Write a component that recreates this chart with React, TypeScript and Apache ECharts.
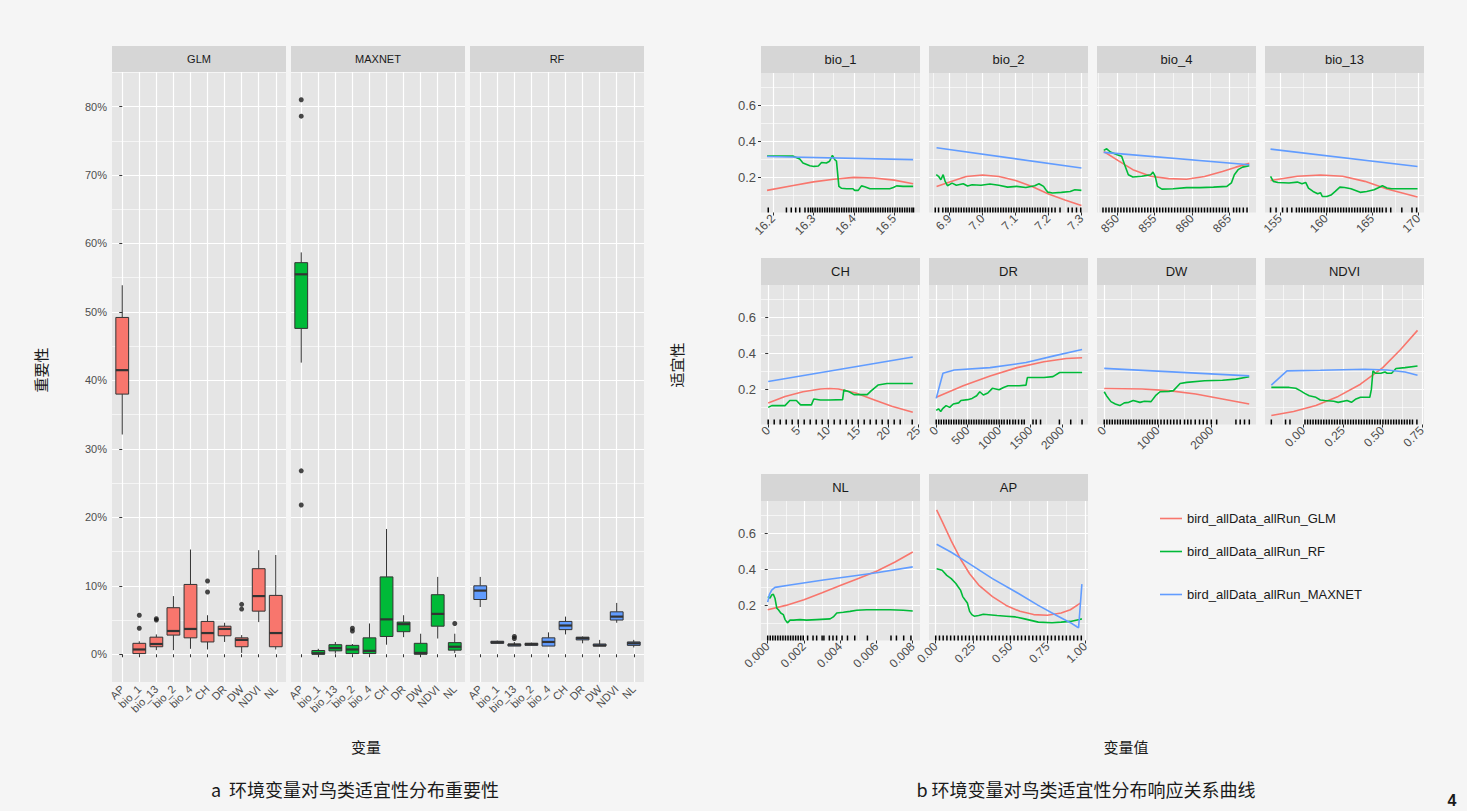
import React, { useEffect, useRef } from "react";
import * as echarts from "echarts";

// ---------------- Left figure: variable importance (%) ----------------
const VARS = ["AP", "bio_1", "bio_13", "bio_2", "bio_4", "CH", "DR", "DW", "NDVI", "NL"];
const MODELS = ["GLM", "MAXNET", "RF"];
const MODEL_COLORS = ["#F8766D", "#00BA38", "#619CFF"];
const IMP_TICKS = [0, 10, 20, 30, 40, 50, 60, 70, 80];
const IMP_MINOR = [5, 15, 25, 35, 45, 55, 65, 75, 85];

// [lower whisker, Q1, median, Q3, upper whisker] in the order of VARS
const glmStats = [
  [32.1, 38.0, 41.5, 49.2, 53.9],
  [0.0, 0.1, 0.7, 1.6, 1.9],
  [0.6, 1.1, 1.5, 2.5, 2.9],
  [0.6, 2.8, 3.4, 6.8, 8.5],
  [0.8, 2.4, 3.7, 10.2, 15.3],
  [0.7, 1.8, 3.1, 4.8, 5.7],
  [1.8, 2.7, 3.7, 4.1, 4.6],
  [0.2, 1.1, 2.1, 2.4, 2.8],
  [4.7, 6.3, 8.5, 12.5, 15.2],
  [0.7, 1.1, 3.1, 8.6, 14.5],
];
const maxnetStats = [
  [42.6, 47.6, 55.5, 57.2, 58.7],
  [0.0, 0.0, 0.15, 0.55, 0.8],
  [0.1, 0.5, 0.9, 1.4, 1.8],
  [0.1, 0.1, 0.7, 1.3, 1.5],
  [0.1, 0.1, 0.5, 2.4, 4.5],
  [1.4, 2.6, 5.1, 11.3, 18.3],
  [2.5, 3.3, 4.4, 4.7, 5.7],
  [0.0, 0.0, 0.2, 1.6, 3.0],
  [2.3, 4.1, 5.9, 8.7, 11.3],
  [0.2, 0.6, 1.1, 1.7, 3.0],
];
const rfStats = [
  [6.9, 8.0, 9.3, 10.0, 11.3],
  [1.6, 1.6, 1.75, 1.9, 2.0],
  [1.2, 1.2, 1.4, 1.5, 1.8],
  [1.3, 1.3, 1.5, 1.6, 1.7],
  [1.2, 1.2, 1.8, 2.4, 3.2],
  [2.9, 3.6, 4.2, 4.8, 5.5],
  [1.6, 2.1, 2.35, 2.5, 2.6],
  [1.2, 1.2, 1.3, 1.5, 2.1],
  [4.6, 5.0, 5.5, 6.2, 7.5],
  [1.0, 1.3, 1.6, 1.8, 2.1],
];
// [variable index, value]
const glmOutliers = [[1, 5.7], [1, 3.8], [2, 5.2], [2, 5.0], [5, 10.7], [5, 9.1], [7, 7.3], [7, 6.6]];
const maxnetOutliers = [[0, 81.0], [0, 78.6], [0, 26.8], [0, 21.8], [3, 3.8], [3, 3.4], [9, 4.5]];
const rfOutliers = [[2, 2.6], [2, 2.3]];

// ---------------- Right figure: response curves ----------------
const LEGEND_NAMES = ["bird_allData_allRun_GLM", "bird_allData_allRun_RF", "bird_allData_allRun_MAXNET"];
const LINE_COLORS = ["#F8766D", "#00BA38", "#619CFF"];
const RESP_TICKS = [0.2, 0.4, 0.6];
const RESP_MINOR = [0.1, 0.3, 0.5, 0.7];

const bio1Glm = [[16.185, 0.128], [16.25, 0.155], [16.3, 0.175], [16.35, 0.19], [16.4, 0.2], [16.45, 0.197], [16.5, 0.185], [16.547, 0.165]];
const bio1Rf = [[16.185, 0.318], [16.25, 0.318], [16.266, 0.302], [16.274, 0.28], [16.291, 0.265], [16.301, 0.261], [16.312, 0.263], [16.32, 0.283], [16.332, 0.28], [16.34, 0.29], [16.347, 0.322], [16.353, 0.298], [16.357, 0.29], [16.363, 0.15], [16.369, 0.14], [16.382, 0.137], [16.398, 0.137], [16.402, 0.128], [16.411, 0.128], [16.419, 0.153], [16.427, 0.148], [16.44, 0.137], [16.456, 0.137], [16.489, 0.137], [16.498, 0.144], [16.506, 0.153], [16.522, 0.15], [16.547, 0.15]];
const bio1Maxnet = [[16.185, 0.316], [16.547, 0.299]];
const bio1Rug = [16.188, 16.233, 16.245, 16.256, 16.266, 16.279, 16.287, 16.293, 16.298, 16.304, 16.31, 16.316, 16.322, 16.328, 16.334, 16.34, 16.346, 16.352, 16.358, 16.364, 16.37, 16.376, 16.382, 16.388, 16.394, 16.4, 16.406, 16.412, 16.418, 16.424, 16.43, 16.436, 16.442, 16.448, 16.454, 16.46, 16.466, 16.472, 16.478, 16.484, 16.49, 16.496, 16.502, 16.508, 16.514, 16.52, 16.526, 16.532, 16.538, 16.544, 16.548];

const bio2Glm = [[6.86, 0.15], [6.9, 0.175], [6.95, 0.205], [7.0, 0.213], [7.05, 0.205], [7.1, 0.183], [7.15, 0.15], [7.2, 0.108], [7.25, 0.075], [7.3, 0.044]];
const bio2Rf = [[6.859, 0.215], [6.866, 0.206], [6.873, 0.187], [6.88, 0.215], [6.886, 0.178], [6.893, 0.154], [6.907, 0.168], [6.92, 0.156], [6.941, 0.165], [6.954, 0.152], [6.968, 0.159], [6.995, 0.156], [7.022, 0.163], [7.049, 0.156], [7.076, 0.146], [7.103, 0.15], [7.131, 0.144], [7.158, 0.154], [7.171, 0.165], [7.185, 0.15], [7.192, 0.131], [7.198, 0.118], [7.212, 0.113], [7.239, 0.117], [7.266, 0.122], [7.28, 0.131], [7.3, 0.128]];
const bio2Maxnet = [[6.86, 0.365], [7.3, 0.252]];
const bio2Rug = [6.856, 6.866, 6.879, 6.888, 6.895, 6.903, 6.911, 6.919, 6.927, 6.935, 6.943, 6.951, 6.959, 6.967, 6.975, 6.983, 6.991, 6.999, 7.007, 7.015, 7.023, 7.031, 7.039, 7.047, 7.055, 7.063, 7.071, 7.079, 7.087, 7.095, 7.103, 7.111, 7.119, 7.127, 7.135, 7.143, 7.151, 7.159, 7.167, 7.175, 7.183, 7.191, 7.2, 7.21, 7.22, 7.235, 7.26, 7.272, 7.285, 7.298];

const bio4Glm = [[848.2, 0.344], [850.3, 0.289], [852.1, 0.243], [854.5, 0.206], [856.9, 0.193], [859.3, 0.19], [861.7, 0.205], [864.1, 0.233], [865.9, 0.257], [867.7, 0.278]];
const bio4Rf = [[848.2, 0.35], [848.6, 0.359], [849.1, 0.341], [850, 0.326], [850.6, 0.317], [851, 0.27], [851.5, 0.215], [852.1, 0.202], [853.3, 0.206], [854.5, 0.215], [854.8, 0.23], [855.1, 0.206], [855.4, 0.15], [856, 0.135], [857.5, 0.137], [859.3, 0.143], [861.1, 0.143], [862.9, 0.146], [864.7, 0.15], [865.3, 0.169], [865.7, 0.215], [866.2, 0.243], [866.8, 0.257], [867.7, 0.265]];
const bio4Maxnet = [[848.2, 0.339], [867.7, 0.27]];
const bio4Rug = [848.1, 848.5, 848.9, 849.3, 849.7, 850.1, 850.5, 850.9, 851.3, 851.7, 852.1, 852.5, 852.9, 853.3, 853.7, 854.1, 854.5, 854.9, 855.3, 855.7, 856.1, 856.5, 856.9, 857.3, 857.7, 858.1, 858.5, 858.9, 859.3, 859.7, 860.1, 860.5, 860.9, 861.3, 861.7, 862.1, 862.5, 862.9, 863.3, 863.7, 864.1, 864.5, 864.9, 865.6, 866.0, 866.4, 866.9, 867.4];

const bio13Glm = [[154.0, 0.183], [156.9, 0.206], [159.4, 0.213], [161.8, 0.206], [164.2, 0.178], [166.6, 0.135], [169.9, 0.091]];
const bio13Rf = [[154.0, 0.206], [154.3, 0.178], [154.8, 0.172], [156.0, 0.169], [156.9, 0.174], [157.4, 0.165], [157.8, 0.172], [158.1, 0.141], [158.6, 0.122], [159.1, 0.109], [159.4, 0.115], [159.6, 0.094], [160.1, 0.094], [160.6, 0.104], [161.0, 0.122], [161.5, 0.146], [162.0, 0.144], [162.7, 0.137], [163.7, 0.117], [164.4, 0.122], [165.2, 0.131], [165.6, 0.141], [166.1, 0.154], [166.6, 0.141], [167.1, 0.137], [169.9, 0.137]];
const bio13Maxnet = [[154.0, 0.357], [169.9, 0.261]];
const bio13Rug = [154.0, 154.6, 155.3, 155.8, 156.3, 156.8, 157.1, 157.4, 157.7, 158.0, 158.3, 158.6, 158.9, 159.2, 159.5, 159.8, 160.1, 160.4, 160.7, 161.0, 161.3, 161.6, 161.9, 162.2, 162.5, 162.8, 163.1, 163.4, 163.7, 164.0, 164.3, 164.6, 164.9, 165.2, 165.5, 165.8, 166.1, 166.5, 167.0, 168.2, 169.3, 169.8];

const chGlm = [[0, 0.125], [2.8, 0.161], [5.8, 0.187], [8.7, 0.202], [10.2, 0.205], [11.7, 0.202], [14.6, 0.18], [17.6, 0.143], [20.6, 0.106], [24.1, 0.073]];
const chRf = [[0, 0.1], [0.6, 0.11], [1.3, 0.11], [2.8, 0.11], [3.6, 0.138], [4.7, 0.138], [5.4, 0.114], [7.2, 0.114], [7.6, 0.147], [8.7, 0.141], [10.2, 0.141], [12.4, 0.143], [12.6, 0.196], [13.5, 0.187], [14.3, 0.171], [16.5, 0.171], [17.2, 0.193], [18.3, 0.224], [19.8, 0.233], [24.1, 0.233]];
const chMaxnet = [[0, 0.244], [24.1, 0.38]];
const chRug = [0, 1, 2, 3, 4, 5, 6, 7, 8, 9, 10, 11, 12, 13, 14, 15, 16, 17, 18, 19, 20, 21, 22, 24];

const drGlm = [[0, 0.156], [429, 0.22], [857, 0.275], [1286, 0.321], [1714, 0.354], [2071, 0.372], [2321, 0.376]];
const drRf = [[0, 0.083], [36, 0.092], [71, 0.077], [107, 0.095], [157, 0.11], [214, 0.1], [271, 0.119], [357, 0.125], [393, 0.138], [500, 0.143], [571, 0.15], [643, 0.165], [693, 0.187], [750, 0.169], [821, 0.18], [893, 0.206], [1000, 0.198], [1071, 0.211], [1143, 0.22], [1321, 0.22], [1429, 0.224], [1450, 0.266], [1714, 0.266], [1857, 0.271], [1964, 0.294], [2321, 0.294]];
const drMaxnet = [[0, 0.15], [107, 0.29], [286, 0.308], [857, 0.321], [1429, 0.349], [1857, 0.385], [2321, 0.422]];
const drRug = [0, 40, 80, 120, 160, 200, 240, 280, 320, 360, 400, 440, 480, 520, 560, 600, 640, 680, 720, 760, 800, 840, 880, 920, 960, 1000, 1040, 1080, 1130, 1170, 1220, 1260, 1310, 1360, 1400, 1540, 1590, 1660, 1960, 2140, 2320];

const dwGlm = [[0, 0.205], [708, 0.202], [1208, 0.193], [1708, 0.174], [2208, 0.147], [2708, 0.119]];
const dwRf = [[0, 0.187], [42, 0.165], [125, 0.132], [208, 0.119], [292, 0.11], [375, 0.125], [458, 0.128], [542, 0.138], [667, 0.128], [750, 0.134], [875, 0.132], [958, 0.165], [1042, 0.187], [1208, 0.189], [1292, 0.193], [1417, 0.233], [1542, 0.239], [1875, 0.248], [2208, 0.251], [2458, 0.257], [2708, 0.27]];
const dwMaxnet = [[0, 0.317], [2708, 0.275]];
const dwRug = [0, 50, 100, 150, 200, 250, 300, 350, 400, 450, 500, 550, 600, 650, 700, 750, 800, 850, 900, 950, 1000, 1060, 1120, 1180, 1240, 1300, 1360, 1420, 1500, 1560, 1620, 1700, 1780, 1850, 1920, 2000, 2100, 2460, 2540, 2620, 2710];

const ndviGlm = [[-0.203, 0.055], [-0.062, 0.077], [0.079, 0.11], [0.22, 0.161], [0.361, 0.229], [0.502, 0.321], [0.615, 0.422], [0.722, 0.528]];
const ndviRf = [[-0.203, 0.211], [-0.09, 0.211], [-0.048, 0.206], [-0.02, 0.193], [0.008, 0.178], [0.037, 0.165], [0.079, 0.156], [0.107, 0.141], [0.135, 0.138], [0.192, 0.134], [0.22, 0.128], [0.276, 0.138], [0.304, 0.128], [0.333, 0.147], [0.361, 0.156], [0.42, 0.156], [0.43, 0.2], [0.44, 0.303], [0.455, 0.29], [0.49, 0.29], [0.516, 0.297], [0.53, 0.29], [0.558, 0.29], [0.586, 0.316], [0.643, 0.321], [0.722, 0.33]];
const ndviMaxnet = [[-0.203, 0.224], [-0.104, 0.303], [0.107, 0.306], [0.389, 0.312], [0.53, 0.308], [0.643, 0.297], [0.722, 0.279]];
const ndviRug = [-0.203, -0.113, -0.085, 0.01, 0.027, 0.044, 0.061, 0.078, 0.095, 0.112, 0.129, 0.146, 0.163, 0.18, 0.197, 0.214, 0.231, 0.248, 0.265, 0.282, 0.299, 0.316, 0.333, 0.35, 0.367, 0.384, 0.401, 0.418, 0.435, 0.452, 0.469, 0.486, 0.503, 0.52, 0.537, 0.554, 0.571, 0.588, 0.605, 0.622, 0.639, 0.656, 0.673, 0.69, 0.718];

const nlGlm = [[0, 0.176], [0.001, 0.2], [0.002, 0.232], [0.003, 0.27], [0.004, 0.31], [0.005, 0.35], [0.006, 0.39], [0.007, 0.44], [0.008, 0.497]];
const nlRf = [[0, 0.249], [0.00013, 0.24], [0.00022, 0.258], [0.00031, 0.262], [0.0004, 0.24], [0.0005, 0.185], [0.00059, 0.176], [0.00072, 0.158], [0.00086, 0.149], [0.00096, 0.121], [0.00109, 0.103], [0.00123, 0.118], [0.00142, 0.118], [0.00178, 0.121], [0.00215, 0.118], [0.0027, 0.121], [0.00344, 0.125], [0.00362, 0.136], [0.00381, 0.158], [0.00417, 0.162], [0.00454, 0.167], [0.00491, 0.173], [0.00546, 0.176], [0.00675, 0.176], [0.00748, 0.173], [0.008, 0.169]];
const nlMaxnet = [[0, 0.218], [0.000092, 0.26], [0.00022, 0.285], [0.0004, 0.3], [0.00123, 0.313], [0.00307, 0.341], [0.00491, 0.366], [0.006, 0.381], [0.008, 0.414]];
const nlRug = [0, 0.00014, 0.00028, 0.00042, 0.00056, 0.0007, 0.00084, 0.00098, 0.00112, 0.00126, 0.0014, 0.00154, 0.00168, 0.00182, 0.00196, 0.0022, 0.0025, 0.0027, 0.003, 0.0031, 0.0034, 0.0036, 0.0038, 0.0041, 0.0044, 0.0048, 0.0055, 0.0068, 0.0071, 0.0075, 0.0079];

const apGlm = [[0.006, 0.731], [0.043, 0.667], [0.104, 0.558], [0.166, 0.458], [0.227, 0.376], [0.288, 0.313], [0.38, 0.249], [0.472, 0.2], [0.564, 0.167], [0.656, 0.149], [0.748, 0.145], [0.84, 0.158], [0.902, 0.176], [0.969, 0.213]];
const apRf = [[0.006, 0.404], [0.043, 0.395], [0.074, 0.367], [0.104, 0.349], [0.135, 0.322], [0.15, 0.304], [0.166, 0.285], [0.181, 0.249], [0.196, 0.231], [0.212, 0.213], [0.227, 0.167], [0.242, 0.149], [0.258, 0.14], [0.288, 0.144], [0.319, 0.151], [0.411, 0.144], [0.472, 0.14], [0.534, 0.136], [0.595, 0.125], [0.687, 0.107], [0.779, 0.104], [0.84, 0.107], [0.902, 0.111], [0.963, 0.122], [0.979, 0.125]];
const apMaxnet = [[0.006, 0.54], [0.104, 0.495], [0.227, 0.431], [0.38, 0.349], [0.534, 0.276], [0.687, 0.2], [0.81, 0.144], [0.902, 0.104], [0.948, 0.08], [0.957, 0.076], [0.979, 0.318]];
const apRug = [0, 0.025, 0.05, 0.075, 0.1, 0.125, 0.15, 0.175, 0.2, 0.225, 0.25, 0.275, 0.3, 0.325, 0.35, 0.375, 0.4, 0.425, 0.45, 0.475, 0.5, 0.525, 0.55, 0.575, 0.6, 0.625, 0.65, 0.675, 0.7, 0.725, 0.75, 0.775, 0.8, 0.825, 0.85, 0.875, 0.9, 0.925, 0.95, 0.975];

const PANELS = [
  { name: "bio_1", min: 16.17, max: 16.564, major: [16.2, 16.3, 16.4, 16.5], minor: [16.25, 16.35, 16.45, 16.55], digits: 1, lines: [bio1Glm, bio1Rf, bio1Maxnet], rug: bio1Rug },
  { name: "bio_2", min: 6.837, max: 7.32, major: [6.9, 7.0, 7.1, 7.2, 7.3], minor: [6.85, 6.95, 7.05, 7.15, 7.25], digits: 1, lines: [bio2Glm, bio2Rf, bio2Maxnet], rug: bio2Rug },
  { name: "bio_4", min: 847.3, max: 868.6, major: [850, 855, 860, 865], minor: [847.5, 852.5, 857.5, 862.5, 867.5], digits: 0, lines: [bio4Glm, bio4Rf, bio4Maxnet], rug: bio4Rug },
  { name: "bio_13", min: 153.4, max: 170.6, major: [155, 160, 165, 170], minor: [157.5, 162.5, 167.5], digits: 0, lines: [bio13Glm, bio13Rf, bio13Maxnet], rug: bio13Rug },
  { name: "CH", min: -1.2, max: 25.3, major: [0, 5, 10, 15, 20, 25], minor: [2.5, 7.5, 12.5, 17.5, 22.5], digits: 0, lines: [chGlm, chRf, chMaxnet], rug: chRug },
  { name: "DR", min: -115, max: 2415, major: [0, 500, 1000, 1500, 2000], minor: [250, 750, 1250, 1750, 2250], digits: 0, lines: [drGlm, drRf, drMaxnet], rug: drRug },
  { name: "DW", min: -135, max: 2835, major: [0, 1000, 2000], minor: [500, 1500, 2500], digits: 0, lines: [dwGlm, dwRf, dwMaxnet], rug: dwRug },
  { name: "NDVI", min: -0.243, max: 0.763, major: [0, 0.25, 0.5, 0.75], minor: [-0.125, 0.125, 0.375, 0.625], digits: 2, lines: [ndviGlm, ndviRf, ndviMaxnet], rug: ndviRug },
  { name: "NL", min: -0.00037, max: 0.0084, major: [0, 0.002, 0.004, 0.006, 0.008], minor: [0.001, 0.003, 0.005, 0.007], digits: 3, lines: [nlGlm, nlRf, nlMaxnet], rug: nlRug },
  { name: "AP", min: -0.045, max: 1.02, major: [0, 0.25, 0.5, 0.75, 1], minor: [0.125, 0.375, 0.625, 0.875], digits: 2, lines: [apGlm, apRf, apMaxnet], rug: apRug },
];

// ---------------- layout ----------------
const FONT = "'Liberation Sans', Arial, sans-serif";
const CJK = "'Noto Sans CJK SC', sans-serif";
const LEFT_X = [112, 291, 470];
const LEFT_W = 174;
const LEFT_TOP = 72;
const LEFT_H = 610;
const IMP_MIN = -4.05;
const IMP_MAX = 85.05;
const RIGHT_COLS = [761, 929, 1097, 1265];
const RIGHT_W = 159;
const RIGHT_ROWS = [73, 285, 501];
const RIGHT_H = 139.5;
const STRIP_H = 27;
const RESP_MIN = 0.005;
const RESP_MAX = 0.78;
const PANEL_BG = "#e5e5e5";
const STRIP_BG = "#d6d6d6";

function gridLine(w: number) {
  return { show: true, lineStyle: { color: "#ffffff", width: w, type: "solid" } };
}

function buildOption() {
  const grid: any[] = [];
  const xAxis: any[] = [];
  const yAxis: any[] = [];
  const series: any[] = [];
  const graphic: any[] = [];

  const statsByModel = [glmStats, maxnetStats, rfStats];
  const outByModel = [glmOutliers, maxnetOutliers, rfOutliers];
  const catIdx = VARS.map((_, i) => i);

  MODELS.forEach((m, k) => {
    const gi = grid.length;
    grid.push({ left: LEFT_X[k], top: LEFT_TOP, width: LEFT_W, height: LEFT_H, show: true, backgroundColor: PANEL_BG, borderWidth: 0, outerBoundsMode: "none" });
    const xi = xAxis.length;
    xAxis.push({
      type: "value", gridIndex: gi, min: -0.6, max: 9.6,
      axisLine: { show: false },
      axisTick: { show: true, length: 3, customValues: catIdx, lineStyle: { color: "#333333", width: 1 } },
      axisLabel: { show: true, customValues: catIdx, rotate: 45, margin: 5, fontSize: 11, color: "#4d4d4d", fontFamily: FONT, formatter: (v: number) => VARS[Math.round(v)] },
      splitLine: gridLine(1.2),
    });
    const yi = yAxis.length;
    yAxis.push({
      type: "value", gridIndex: gi, min: IMP_MIN, max: IMP_MAX, position: "left",
      axisLine: { show: false },
      axisTick: { show: k === 0, length: 3, customValues: IMP_TICKS, lineStyle: { color: "#333333", width: 1 } },
      axisLabel: { show: k === 0, customValues: IMP_TICKS, margin: 5, fontSize: 11, color: "#4d4d4d", fontFamily: FONT, formatter: (v: number) => `${v}%` },
      splitLine: gridLine(1.2),
    });
    yAxis.push({
      type: "value", gridIndex: gi, min: IMP_MIN, max: IMP_MAX, position: "left",
      axisLine: { show: false },
      axisTick: { show: false, customValues: IMP_MINOR },
      axisLabel: { show: false, customValues: IMP_MINOR },
      splitLine: gridLine(0.6),
    });
    const fill = MODEL_COLORS[k];
    series.push({
      type: "custom", xAxisIndex: xi, yAxisIndex: yi, z: 3,
      data: statsByModel[k].map((s, i) => [i, ...s]),
      encode: { x: 0, y: [1, 2, 3, 4, 5] },
      renderItem: (params: any, api: any) => {
        const i = api.value(0);
        const lo = api.coord([i, api.value(1)]);
        const q1 = api.coord([i, api.value(2)]);
        const md = api.coord([i, api.value(3)]);
        const q3 = api.coord([i, api.value(4)]);
        const hi = api.coord([i, api.value(5)]);
        const w = api.size([0.75, 0])[0];
        const x = lo[0];
        return {
          type: "group",
          children: [
            { type: "line", shape: { x1: x, y1: hi[1], x2: x, y2: q3[1] }, style: { stroke: "#333333", lineWidth: 1 } },
            { type: "line", shape: { x1: x, y1: q1[1], x2: x, y2: lo[1] }, style: { stroke: "#333333", lineWidth: 1 } },
            { type: "rect", shape: { x: x - w / 2, y: q3[1], width: w, height: Math.max(q1[1] - q3[1], 0.5) }, style: { fill, stroke: "#333333", lineWidth: 1 } },
            { type: "line", shape: { x1: x - w / 2, y1: md[1], x2: x + w / 2, y2: md[1] }, style: { stroke: "#333333", lineWidth: 2.2 } },
          ],
        };
      },
    });
    series.push({
      type: "scatter", xAxisIndex: xi, yAxisIndex: yi, z: 4,
      data: outByModel[k], symbolSize: 5,
      itemStyle: { color: "#1a1a1a" },
    });
    graphic.push({ type: "rect", shape: { x: LEFT_X[k], y: 46, width: LEFT_W, height: 26 }, style: { fill: STRIP_BG } });
    graphic.push({ type: "text", x: LEFT_X[k] + LEFT_W / 2, y: 59, style: { text: m, fill: "#1a1a1a", font: `11px ${FONT}`, textAlign: "center", textVerticalAlign: "middle", verticalAlign: "middle" } });
  });

  PANELS.forEach((p, idx) => {
    const row = Math.floor(idx / 4);
    const col = idx % 4;
    const left = RIGHT_COLS[col];
    const top = RIGHT_ROWS[row];
    const gi = grid.length;
    grid.push({ left, top, width: RIGHT_W, height: RIGHT_H, show: true, backgroundColor: PANEL_BG, borderWidth: 0, outerBoundsMode: "none" });
    const xi = xAxis.length;
    xAxis.push({
      type: "value", gridIndex: gi, min: p.min, max: p.max,
      axisLine: { show: false },
      axisTick: { show: true, length: 3, customValues: p.major, lineStyle: { color: "#333333", width: 1 } },
      axisLabel: { show: true, customValues: p.major, rotate: 45, margin: 4, fontSize: 12, color: "#4d4d4d", fontFamily: FONT, formatter: (v: number) => v.toFixed(p.digits) },
      splitLine: gridLine(1.2),
    });
    xAxis.push({
      type: "value", gridIndex: gi, min: p.min, max: p.max,
      axisLine: { show: false },
      axisTick: { show: false, customValues: p.minor },
      axisLabel: { show: false, customValues: p.minor },
      splitLine: gridLine(0.6),
    });
    const yi = yAxis.length;
    yAxis.push({
      type: "value", gridIndex: gi, min: RESP_MIN, max: RESP_MAX, position: "left",
      axisLine: { show: false },
      axisTick: { show: col === 0, length: 3, customValues: RESP_TICKS, lineStyle: { color: "#333333", width: 1 } },
      axisLabel: { show: col === 0, customValues: RESP_TICKS, margin: 5, fontSize: 13, color: "#4d4d4d", fontFamily: FONT, formatter: (v: number) => v.toFixed(1) },
      splitLine: gridLine(1.2),
    });
    yAxis.push({
      type: "value", gridIndex: gi, min: RESP_MIN, max: RESP_MAX, position: "left",
      axisLine: { show: false },
      axisTick: { show: false, customValues: RESP_MINOR },
      axisLabel: { show: false, customValues: RESP_MINOR },
      splitLine: gridLine(0.6),
    });
    p.lines.forEach((d, j) => {
      series.push({
        type: "line", name: LEGEND_NAMES[j], xAxisIndex: xi, yAxisIndex: yi, z: 3,
        data: d, symbol: "none", showSymbol: false, smooth: false, color: LINE_COLORS[j],
        lineStyle: { color: LINE_COLORS[j], width: 1.6 },
      });
    });
    series.push({
      type: "custom", xAxisIndex: xi, yAxisIndex: yi, z: 2,
      data: p.rug.map((v) => [v, RESP_MIN]),
      encode: { x: 0, y: 1 },
      renderItem: (params: any, api: any) => {
        const pt = api.coord([api.value(0), api.value(1)]);
        return { type: "line", shape: { x1: pt[0], y1: pt[1], x2: pt[0], y2: pt[1] - 5 }, style: { stroke: "#000000", lineWidth: 1.5 } };
      },
    });
    graphic.push({ type: "rect", shape: { x: left, y: top - STRIP_H, width: RIGHT_W, height: STRIP_H }, style: { fill: STRIP_BG } });
    graphic.push({ type: "text", x: left + RIGHT_W / 2, y: top - STRIP_H / 2, style: { text: p.name, fill: "#1a1a1a", font: `13px ${FONT}`, textAlign: "center", textVerticalAlign: "middle", verticalAlign: "middle" } });
  });

  const txt = (text: string, x: number, y: number, font: string, rotation = 0) => ({
    type: "text", x, y, rotation,
    style: { text, fill: "#1a1a1a", font, textAlign: "center", textVerticalAlign: "middle", verticalAlign: "middle" },
  });
  graphic.push(txt("变量", 366, 746, `15px ${CJK}`));
  graphic.push(txt("重要性", 40, 370, `15px ${CJK}`, Math.PI / 2));
  graphic.push(txt("变量值", 1126, 746, `15px ${CJK}`));
  graphic.push(txt("适宜性", 676, 365, `15px ${CJK}`, Math.PI / 2));
  graphic.push(txt("a  环境变量对鸟类适宜性分布重要性", 355, 789, `18px ${CJK}`));
  graphic.push(txt("b 环境变量对鸟类适宜性分布响应关系曲线", 1086, 789, `18px ${CJK}`));
  graphic.push(txt("4", 1452, 800, `bold 16px ${FONT}`));

  const legendTextCenters = [520, 553, 596];
  const legend = LEGEND_NAMES.map((n, i) => ({
    data: [n], left: 1155, top: legendTextCenters[i] - 13, orient: "vertical", selectedMode: false,
    icon: "rect", itemWidth: 22, itemHeight: 1.6, itemGap: 5,
    textStyle: { fontSize: 13, color: "#1a1a1a", fontFamily: FONT },
  }));

  return {
    animation: false,
    backgroundColor: "#f5f5f5",
    textStyle: { fontFamily: FONT },
    grid, xAxis, yAxis, series, graphic, legend,
  };
}

export default function App() {
  const ref = useRef<HTMLDivElement>(null);
  useEffect(() => {
    const chart = echarts.init(ref.current!, null, { renderer: "svg" });
    chart.setOption(buildOption() as any);
    return () => chart.dispose();
  }, []);
  return <div ref={ref} style={{ position: "absolute", left: 0, top: 0, width: 1467, height: 811 }} />;
}
